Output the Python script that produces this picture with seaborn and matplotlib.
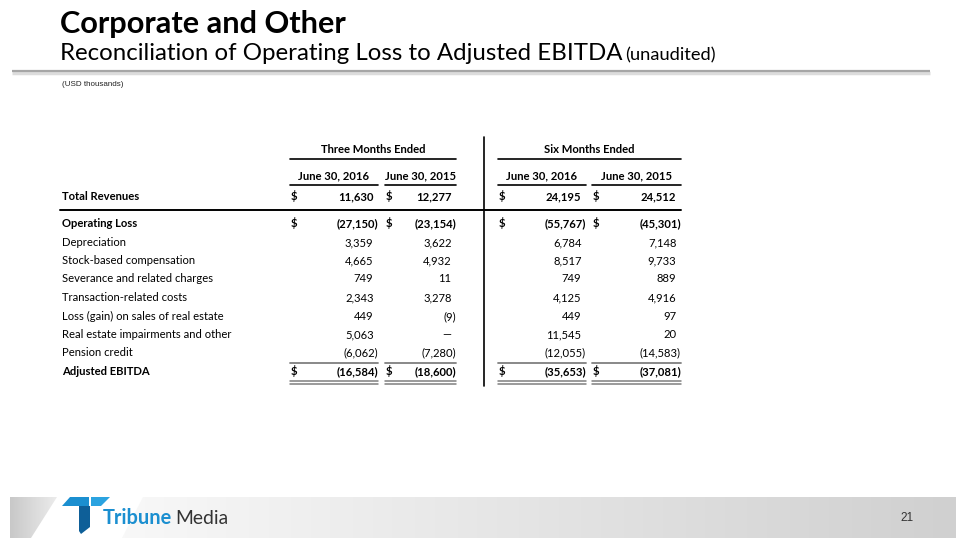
import numpy as np
import matplotlib
matplotlib.use("Agg")
import matplotlib.pyplot as plt
from matplotlib.patches import Polygon
import seaborn as sns

sns.set_theme(style="white")
plt.rcParams["font.family"] = ["Lato", "DejaVu Sans"]

# ---------------------------------------------------------------------------
# table data (USD thousands); None means an em dash
# ---------------------------------------------------------------------------
row_labels = [
    "Total Revenues",
    "Operating Loss",
    "Depreciation",
    "Stock-based compensation",
    "Severance and related charges",
    "Transaction-related costs",
    "Loss (gain) on sales of real estate",
    "Real estate impairments and other",
    "Pension credit",
    "Adjusted EBITDA",
]
three_m_2016 = [11630, -27150, 3359, 4665, 749, 2343, 449, 5063, -6062, -16584]
three_m_2015 = [12277, -23154, 3622, 4932, 11, 3278, -9, None, -7280, -18600]
six_m_2016 = [24195, -55767, 6784, 8517, 749, 4125, 449, 11545, -12055, -35653]
six_m_2015 = [24512, -45301, 7148, 9733, 889, 4916, 97, 20, -14583, -37081]

bold_rows = ["Total Revenues", "Operating Loss", "Adjusted EBITDA"]
dollar_rows = ["Total Revenues", "Operating Loss", "Adjusted EBITDA"]
group_labels = ["Three Months Ended", "Six Months Ended"]
date_labels = ["June 30, 2016", "June 30, 2015", "June 30, 2016", "June 30, 2015"]

columns = [three_m_2016, three_m_2015, six_m_2016, six_m_2015]


def fmt(v):
    if v is None:
        return "\u2014"
    if v < 0:
        return f"({abs(v):,})"
    return f"{v:,}"


fig = plt.figure(figsize=(9.6, 5.4), dpi=100)
ax = fig.add_axes([0, 0, 1, 1])
ax.set_xlim(0, 960)
ax.set_ylim(540, 0)
ax.axis("off")
renderer = fig.canvas.get_renderer()


def fit_text(x, y, s, width, **kw):
    t = ax.text(x, y, s, **kw)
    w = t.get_window_extent(renderer=renderer).width
    t.set_fontsize(t.get_fontsize() * width / w)
    return t


# --- header -----------------------------------------------------------------
fit_text(60, 33, "Corporate and Other", 287, fontsize=24, fontweight="bold",
         color="black", va="baseline")
fit_text(60, 60, "Reconciliation of Operating Loss to Adjusted EBITDA", 560,
         fontsize=18, color="black", va="baseline")
fit_text(625, 60, "(unaudited)", 90, fontsize=12, color="black", va="baseline")
ax.plot([12, 930], [72.5, 72.5], color="#dcdcdc", lw=2.5, solid_capstyle="butt")
ax.plot([12, 930], [70.5, 70.5], color="#a6a6a6", lw=1.6, solid_capstyle="butt")
ax.text(62, 84, "(USD thousands)", fontsize=5.8, family=["Liberation Sans"],
        color="#222222", va="center")

# --- table layout -----------------------------------------------------------
col_left = [290, 385, 498, 592]
col_right = [378, 456, 586, 681]
group_spans = [(290, 456), (498, 681)]
y_group, y_date, y_total = 150, 176, 197
y_first, row_step = 224, 18.5
row_y = [y_total] + [y_first + i * row_step for i in range(len(row_labels) - 1)]
paren_pad = 4.5
fs = 8.1
base = 3  # baseline offset below row centre

for (a, b), lab in zip(group_spans, group_labels):
    ax.text((a + b) / 2, y_group + base, lab, fontsize=fs, fontweight="bold",
            ha="center", va="baseline", color="black")
    ax.plot([a, b], [159, 159], color="black", lw=1.2)
for a, b, lab in zip(col_left, col_right, date_labels):
    ax.text((a + b) / 2, y_date + base, lab, fontsize=fs, fontweight="bold",
            ha="center", va="baseline", color="black")
    ax.plot([a, b], [185, 185], color="black", lw=1.2)

for i, (lab, y) in enumerate(zip(row_labels, row_y)):
    wt = "bold" if lab in bold_rows else "normal"
    yb = round(y + base)
    ax.text(62, yb, lab, fontsize=fs, fontweight=wt, va="baseline",
            color="black")
    for j, col in enumerate(columns):
        v = col[i]
        s = fmt(v)
        x = col_right[j] if (v is not None and v < 0) else col_right[j] - paren_pad
        ax.text(x, yb, s, fontsize=fs, fontweight=wt, ha="right",
                va="baseline", color="black")
        if lab in dollar_rows:
            ax.text(col_left[j] + 1, yb, "$", fontsize=fs, fontweight="bold",
                    va="baseline", color="black")

# rules
ax.plot([60, 681], [210, 210], color="black", lw=1.4)
ax.plot([484, 484], [137, 386], color="black", lw=1.2)
for a, b in zip(col_left, col_right):
    ax.plot([a, b], [363, 363], color="#7f7f7f", lw=1.3)
    ax.plot([a, b], [381, 381], color="#7f7f7f", lw=1.1)
    ax.plot([a, b], [384, 384], color="#7f7f7f", lw=1.1)

# --- footer -----------------------------------------------------------------
def gradient_poly(pts, c0, c1):
    xs = [p[0] for p in pts]
    ys = [p[1] for p in pts]
    poly = Polygon(pts, closed=True, facecolor="none", edgecolor="none")
    ax.add_patch(poly)
    g = np.linspace(0, 1, 256)[None, :]
    cmap = matplotlib.colors.LinearSegmentedColormap.from_list("g", [c0, c1])
    im = ax.imshow(g, cmap=cmap, aspect="auto",
                   extent=[min(xs), max(xs), max(ys), min(ys)], zorder=0)
    im.set_clip_path(poly)


gradient_poly([(10, 497), (57, 497), (31, 538), (10, 538)], "#c8c8c8", "#ececec")
gradient_poly([(143, 497), (956, 497), (956, 538), (122, 538)], "#f8f8f8", "#d0d0d0")
ax.set_xlim(0, 960)
ax.set_ylim(540, 0)

# logo mark
ax.add_patch(Polygon([(62, 506), (70, 497), (89, 497), (89, 506)],
                     facecolor="#1b8fd0", edgecolor="none", zorder=3))
ax.add_patch(Polygon([(91, 497), (110, 497), (101, 506), (91, 506)],
                     facecolor="#2ba3e0", edgecolor="none", zorder=3))
ax.add_patch(Polygon([(79, 506), (90, 506), (90, 527), (81, 534), (79, 531)],
                     facecolor="#0e5f98", edgecolor="none", zorder=3))
fit_text(103, 524, "Tribune", 69, fontsize=12, fontweight="bold",
         color="#1b8fd0", va="baseline", zorder=3)
fit_text(175, 524, "Media", 53, fontsize=12, color="#333333",
         va="baseline", zorder=3)
ax.text(907, 518, "21", fontsize=8.5, family=["Liberation Sans"],
        color="#333333", ha="center", va="center", zorder=3)

fig.savefig("out.png", dpi=100)
